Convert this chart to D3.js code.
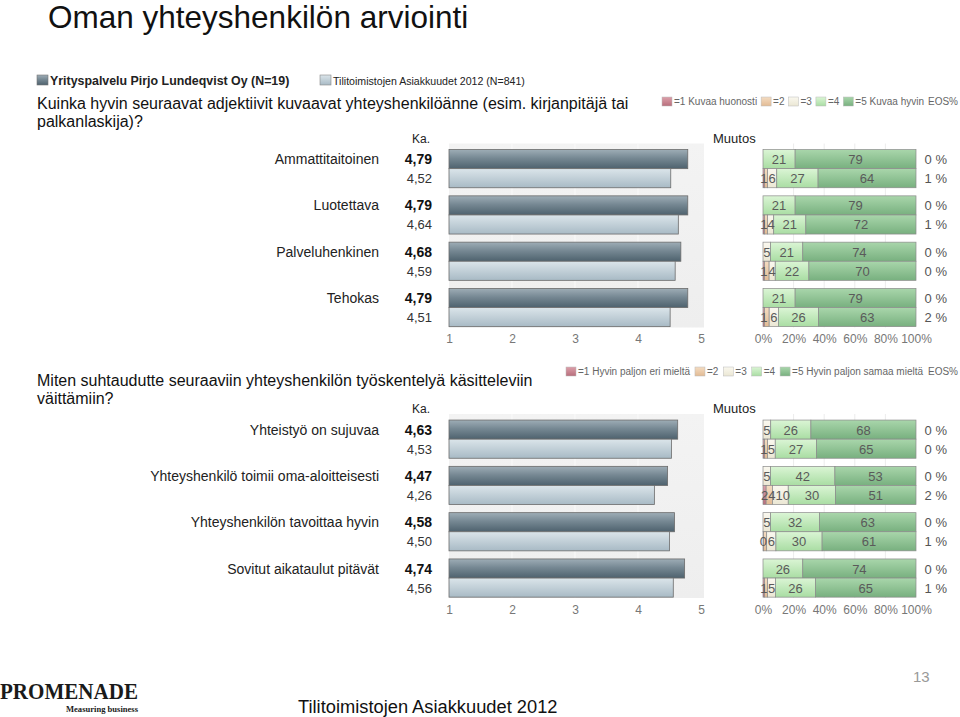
<!DOCTYPE html>
<html><head><meta charset="utf-8">
<script src="https://cdn.jsdelivr.net/npm/d3@7"></script>
<style>body{margin:0;background:#fff}svg{display:block}</style>
</head><body><svg id="c" width="960" height="717" font-family="Liberation Sans, Arial, sans-serif"></svg>
<script>
// ---------- data ----------
const seriesNames = ["Yrityspalvelu Pirjo Lundeqvist Oy (N=19)", "Tilitoimistojen Asiakkuudet 2012 (N=841)"];
const questionTop = ["Kuinka hyvin seuraavat adjektiivit kuvaavat yhteyshenkilöänne (esim. kirjanpitäjä tai", "palkanlaskija)?"];
const categoriesTop = ["Ammattitaitoinen", "Luotettava", "Palveluhenkinen", "Tehokas"];
const meanCompanyTop = [4.79, 4.79, 4.68, 4.79];
const meanBenchTop = [4.52, 4.64, 4.59, 4.51];
const distCompanyTop = [[0,0,0,21,79],[0,0,0,21,79],[0,0,5,21,74],[0,0,0,21,79]];
const distBenchTop = [[1,2,6,27,64],[1,2,4,21,72],[1,3,4,22,70],[1,3,6,26,63]];
const eosCompanyTop = [0,0,0,0];
const eosBenchTop = [1,1,0,2];
const legendTop = ["=1 Kuvaa huonosti","=2","=3","=4","=5 Kuvaa hyvin"];

const questionBottom = ["Miten suhtaudutte seuraaviin yhteyshenkilön työskentelyä käsitteleviin", "väittämiin?"];
const categoriesBottom = ["Yhteistyö on sujuvaa", "Yhteyshenkilö toimii oma-aloitteisesti", "Yhteyshenkilön tavoittaa hyvin", "Sovitut aikataulut pitävät"];
const meanCompanyBottom = [4.63, 4.47, 4.58, 4.74];
const meanBenchBottom = [4.53, 4.26, 4.50, 4.56];
const distCompanyBottom = [[0,0,5,26,68],[0,0,5,42,53],[0,0,5,32,63],[0,0,0,26,74]];
const distBenchBottom = [[1,2,5,27,65],[2,4,10,30,51],[0.4,2,6,30,61],[1,2,5,26,65]];
const eosCompanyBottom = [0,0,0,0];
const eosBenchBottom = [0,2,1,1];
const legendBottom = ["=1 Hyvin paljon eri mieltä","=2","=3","=4","=5 Hyvin paljon samaa mieltä"];

const meanTicks = [1,2,3,4,5];
const pctTicks = [0,0.2,0.4,0.6,0.8,1];

// ---------- drawing ----------
const svg = d3.select("#c");
svg.append("rect").attr("width",960).attr("height",717).attr("fill","#fff");
const defs = svg.append("defs");
function grad(id, stops){
  const g = defs.append("linearGradient").attr("id",id).attr("x1",0).attr("y1",0).attr("x2",0).attr("y2",1);
  stops.forEach(([o,c])=>g.append("stop").attr("offset",o).attr("stop-color",c));
}
grad("gDark",[[0,"#9eadb6"],[0.45,"#768893"],[1,"#4e626e"]]);
grad("gLight",[[0,"#dbe5ea"],[1,"#a8bac5"]]);
const segCols = [["#dca0aa","#b86e7c"],["#f4dcc2","#e2bb94"],["#faf8ef","#ebe7d4"],["#dbf5d5","#a9dda3"],["#a9d6ab","#78b07f"]];
segCols.forEach((c,i)=>grad("gS"+i,[[0,c[0]],[1,c[1]]]));
grad("gBg",[[0,"#f3f3f3"],[1,"#eeeeee"]]);

const fmt2 = v => d3.format(".2f")(v).replace(".",",");

// Title
svg.append("text").attr("x",48).attr("y",28).attr("font-size",31.5).attr("fill","#111").text("Oman yhteyshenkilön arviointi");

// Series legend
const sl = svg.append("g");
sl.append("rect").attr("x",37).attr("y",75).attr("width",11).attr("height",10).attr("fill","url(#gDark)").attr("stroke","#777").attr("stroke-width",0.6);
sl.append("text").attr("x",50).attr("y",85).attr("font-size",12.4).attr("font-weight","bold").attr("fill","#222").text(seriesNames[0]);
sl.append("rect").attr("x",320).attr("y",75).attr("width",11).attr("height",10).attr("fill","url(#gLight)").attr("stroke","#888").attr("stroke-width",0.6);
sl.append("text").attr("x",333).attr("y",85).attr("font-size",10.6).attr("fill","#222").text(seriesNames[1]);

function drawLegend(labels, x0, x1, y){
  const g = svg.append("g");
  const items = labels.map((l,i)=>{
    const it = g.append("g");
    it.append("rect").attr("width",10).attr("height",9).attr("y",-8).attr("fill","url(#gS"+i+")").attr("stroke","#bbb").attr("stroke-width",0.5);
    const t = it.append("text").attr("x",12).attr("font-size",10).attr("fill","#666").text(l);
    return {it, w: 12 + t.node().getComputedTextLength()};
  });
  const eos = g.append("text").attr("font-size",10).attr("fill","#666").attr("text-anchor","end").attr("x",x1).attr("y",y).text("EOS%");
  const ew = eos.node().getComputedTextLength();
  const total = d3.sum(items,d=>d.w) + ew;
  const gap = Math.max(1,(x1 - x0 - total)/items.length);
  let x = x0;
  items.forEach(d=>{ d.it.attr("transform",`translate(${x},${y})`); x += d.w + gap; });
}

function drawPanel(o){
  const g = svg.append("g");
  o.question.forEach((q,i)=>g.append("text").attr("x",37).attr("y",o.qY + i*18).attr("font-size",16).attr("fill","#111").text(q));
  drawLegend(o.legend, o.legX0, 958, o.legY);
  g.append("text").attr("x",412).attr("y",o.top-3).attr("font-size",12).attr("fill","#222").text("Ka.");
  g.append("text").attr("x",713).attr("y",o.top-3).attr("font-size",13).attr("fill","#222").text("Muutos");

  const y = d3.scaleBand().domain(o.cats).range([o.top, o.top + 185.2]).paddingInner(0.175).paddingOuter(0.0875);
  const bh = y.bandwidth()/2;
  const x = d3.scaleLinear().domain([1,5]).range([449,701]);
  const xp = d3.scaleLinear().domain([0,1]).range([763,916]);

  g.append("rect").attr("x",x(1)).attr("y",o.top-2).attr("width",x(5)-x(1)+3).attr("height",184).attr("fill","url(#gBg)");
  g.selectAll(".mg").data(meanTicks.slice(1,4)).join("line").attr("x1",d=>x(d)).attr("x2",d=>x(d))
    .attr("y1",o.top-2).attr("y2",o.top+182).attr("stroke","#fafafa").attr("stroke-width",1);
  g.selectAll(".pg").data(pctTicks.slice(1,5)).join("line").attr("x1",d=>xp(d)).attr("x2",d=>xp(d))
    .attr("y1",o.top-2).attr("y2",o.top+182).attr("stroke","#ececec").attr("stroke-width",1);

  const rows = o.cats.map((c,i)=>({c,i}));
  g.selectAll(".cl").data(rows).join("text").attr("x",379).attr("y",d=>y(d.c)+bh/2+5)
    .attr("text-anchor","end").attr("font-size",14).attr("fill","#222").text(d=>d.c);
  [[o.mc,"url(#gDark)",0],[o.mb,"url(#gLight)",1]].forEach(([vals,fill,k])=>{
    g.selectAll(".mb"+k).data(rows).join("rect").attr("x",x(1)).attr("y",d=>y(d.c)+k*bh)
      .attr("width",d=>x(vals[d.i])-x(1)).attr("height",bh).attr("fill",fill).attr("stroke","#6b6b6b").attr("stroke-width",0.8);
    g.selectAll(".mv"+k).data(rows).join("text").attr("x",432).attr("y",d=>y(d.c)+k*bh+bh/2+5)
      .attr("text-anchor","end").attr("font-size",k?13:14).attr("font-weight",k?"normal":"bold").attr("fill",k?"#333":"#111")
      .text(d=>fmt2(vals[d.i]));
  });
  const ax = g.append("g").attr("transform",`translate(0,${o.top+189})`)
    .call(d3.axisBottom(x).tickValues(meanTicks).tickFormat(d3.format("d")).tickSize(0).tickPadding(0));
  ax.select(".domain").remove();
  ax.selectAll("text").attr("font-size",12).attr("fill","#777").attr("font-family","Liberation Sans, Arial, sans-serif");

  const stack = d3.stack().keys([0,1,2,3,4]).offset(d3.stackOffsetExpand);
  [[o.dc,o.ec,0],[o.db,o.eb,1]].forEach(([dist,eos,k])=>{
    const series = stack(dist);
    series.forEach((s,si)=>{
      g.selectAll(`.s${k}_${si}`).data(s.map((d,i)=>({d,i,v:dist[i][si]})).filter(e=>e.v>0)).join("rect")
        .attr("x",e=>xp(e.d[0])).attr("y",e=>y(o.cats[e.i])+k*bh).attr("width",e=>xp(e.d[1])-xp(e.d[0])).attr("height",bh)
        .attr("fill","url(#gS"+si+")").attr("stroke","#8a8a8a").attr("stroke-width",0.7);
    });
    dist.forEach((row,i)=>{
      let lastX = -100, lastRight = -100;
      series.forEach((s,si)=>{
        const v = row[si]; if(!(v>0)) return;
        let cx = (xp(s[i][0])+xp(s[i][1]))/2;
        if (cx - lastX < 4) return;
        lastX = cx;
        const t = g.append("text").attr("y",y(o.cats[i])+k*bh+bh/2+5).attr("text-anchor","middle")
          .attr("font-size",13).attr("fill","#5a5a5a").text(Math.round(v));
        const w = t.node().getComputedTextLength();
        if (cx - w/2 < lastRight) cx = lastRight + w/2;
        t.attr("x",cx);
        lastRight = cx + w/2;
      });
      g.append("text").attr("x",947).attr("y",y(o.cats[i])+k*bh+bh/2+5).attr("text-anchor","end")
        .attr("font-size",13).attr("fill","#555").text(eos[i]+" %");
    });
  });
  const px = g.append("g").attr("transform",`translate(0,${o.top+189})`)
    .call(d3.axisBottom(xp).tickValues(pctTicks).tickFormat(d3.format(".0%")).tickSize(0).tickPadding(0));
  px.select(".domain").remove();
  px.selectAll("text").attr("font-size",12).attr("fill","#777").attr("font-family","Liberation Sans, Arial, sans-serif");
}

drawPanel({question:questionTop,qY:109,legend:legendTop,legX0:662,legY:105,top:145.5,cats:categoriesTop,
  mc:meanCompanyTop,mb:meanBenchTop,dc:distCompanyTop,db:distBenchTop,ec:eosCompanyTop,eb:eosBenchTop});
drawPanel({question:questionBottom,qY:386,legend:legendBottom,legX0:566,legY:375,top:416,cats:categoriesBottom,
  mc:meanCompanyBottom,mb:meanBenchBottom,dc:distCompanyBottom,db:distBenchBottom,ec:eosCompanyBottom,eb:eosBenchBottom});

// Footer
svg.append("text").attr("x",0).attr("y",699).attr("font-family","Liberation Serif, Times New Roman, serif").attr("font-weight","bold")
  .attr("font-size",24).attr("textLength",138).attr("lengthAdjust","spacingAndGlyphs").attr("fill","#1a1a1a").text("PROMENADE");
svg.append("text").attr("x",66).attr("y",712).attr("font-family","Liberation Serif, Times New Roman, serif").attr("font-weight","bold")
  .attr("font-size",8.5).attr("textLength",72).attr("lengthAdjust","spacingAndGlyphs").attr("fill","#1a1a1a").text("Measuring business");
svg.append("text").attr("x",298).attr("y",713).attr("font-size",18.3).attr("fill","#111").text("Tilitoimistojen Asiakkuudet 2012");
svg.append("text").attr("x",913).attr("y",682).attr("font-size",15).attr("fill","#999").text("13");
</script></body></html>
